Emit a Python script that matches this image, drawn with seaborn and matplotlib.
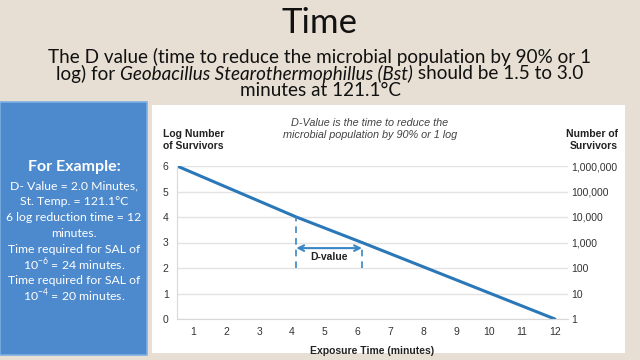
import numpy as np
import pandas as pd
import seaborn as sns
import matplotlib.pyplot as plt
from matplotlib.patches import Rectangle

# data
time_min = [0.5, 4.13, 6.13, 12]
log_surv = [6, 4, 3, 0]
xticks = list(range(1, 13))
yticks = [0, 1, 2, 3, 4, 5, 6]
right_labels = ["1", "10", "100", "1,000", "10,000", "100,000", "1,000,000"]
dval_x = [4.13, 6.13]
dval_top = [4, 2.87]

example_lines = ["D- Value = 2.0 Minutes,",
                 "St. Temp. = 121.1\u00b0C",
                 "6 log reduction time = 12",
                 "minutes.",
                 "Time required for SAL of",
                 "10$^{\\mathregular{-6}}$ = 24 minutes.",
                 "Time required for SAL of",
                 "10$^{\\mathregular{-4}}$ = 20 minutes."]

df = pd.DataFrame({"t": time_min, "log": log_surv})

sns.set_style("white")
plt.rcParams['font.family'] = ['Lato', 'DejaVu Sans']

W, H = 640, 360
fig = plt.figure(figsize=(6.4, 3.6), dpi=100)
fig.patch.set_facecolor('#e7dfd3')

def fx(px):
    return px / W

def fy(py):
    return 1 - py / H

# white chart panel and blue example box
fig.add_artist(Rectangle((fx(152), fy(353)), fx(625 - 152), (353 - 105) / H,
                         transform=fig.transFigure, facecolor='white', edgecolor='none', zorder=0))
fig.add_artist(Rectangle((fx(0), fy(355)), fx(147), (355 - 102) / H,
                         transform=fig.transFigure, facecolor='#4d89cd', edgecolor='#7eaee3',
                         lw=1.2, zorder=0))

# headline
fig.text(fx(320), fy(23), "Time", ha='center', va='center', fontsize=25, color='#111111')
fig.text(fx(320), fy(57), "The D value (time to reduce the microbial population by 90% or 1",
         ha='center', va='center', fontsize=13.6, color='#111111')
fig.text(fx(321), fy(90), "minutes at 121.1\u00b0C", ha='center', va='center', fontsize=13.6, color='#111111')

# second line has an italic part, place pieces side by side
parts = [("log) for ", 'normal'), ("Geobacillus Stearothermophillus (Bst)", 'italic'),
         (" should be 1.5 to 3.0", 'normal')]
rend = fig.canvas.get_renderer()
objs = []
for s, st in parts:
    t = fig.text(0, fy(73.5), s, ha='left', va='center', fontsize=13.6, style=st, color='#111111')
    objs.append(t)
widths = [t.get_window_extent(rend).width for t in objs]
x0 = 320 - sum(widths) / 2
for t, w in zip(objs, widths):
    t.set_x(fx(x0))
    x0 += w

# example box text
fig.text(fx(74), fy(167), "For Example:", ha='center', va='center', fontsize=11.5,
         fontweight='bold', color='white')
for i, line in enumerate(example_lines):
    fig.text(fx(74), fy(186 + i * 15.8), line, ha='center', va='center', fontsize=8.8, color='white')

# chart
ax = fig.add_axes([fx(177), fy(319), fx(568 - 177), (319 - 166) / H])
ax.set_facecolor('none')
sns.lineplot(data=df, x="t", y="log", ax=ax, color='#2a78b8', lw=2.2)
ax.set_xlim(0.5, 12.4)
ax.set_ylim(0, 6)
ax.set_xticks(xticks)
ax.set_yticks(yticks)
ax.grid(axis='y', color='#e3e3e3', lw=1)
ax.tick_params(length=0, labelsize=7.5, labelcolor='#333333', pad=6)
for lab in ax.get_xticklabels() + ax.get_yticklabels():
    lab.set_family(['Liberation Sans'])
for side in ['top', 'right']:
    ax.spines[side].set_visible(False)
for side in ['left', 'bottom']:
    ax.spines[side].set_color('#d8d8d8')
ax.set_xlabel("Exposure Time (minutes)", fontsize=7.5, fontweight='bold', family=['Liberation Sans'],
              color='#222222', labelpad=6)
ax.set_ylabel("")

ax2 = ax.twinx()
ax2.set_ylim(0, 6)
ax2.set_yticks(yticks)
ax2.set_yticklabels(right_labels)
ax2.tick_params(length=0, labelsize=7.5, labelcolor='#333333', pad=2)
for lab in ax2.get_yticklabels():
    lab.set_family(['Liberation Sans'])
for s in ax2.spines.values():
    s.set_visible(False)

# D-value marker
ax.vlines(dval_x[0], 2, dval_top[0], colors='#3a86c4', linestyles=(0, (4, 3)), lw=1.2)
ax.vlines(dval_x[1], 2, dval_top[1], colors='#3a86c4', linestyles=(0, (4, 3)), lw=1.2)
ax.annotate("", xy=(dval_x[0], 2.78), xytext=(dval_x[1], 2.78),
            arrowprops=dict(arrowstyle='<->', color='#3a86c4', lw=1.5, shrinkA=0, shrinkB=0))
ax.text(np.mean(dval_x), 2.43, "D-value", ha='center', va='center', fontsize=7.5,
        fontweight='bold', family=['Liberation Sans'], color='#222222')

# chart headers
fig.text(fx(163), fy(134), "Log Number", ha='left', va='center', fontsize=7.5,
         fontweight='bold', family=['Liberation Sans'], color='#222222')
fig.text(fx(163), fy(146), "of Survivors", ha='left', va='center', fontsize=7.5,
         fontweight='bold', family=['Liberation Sans'], color='#222222')
fig.text(fx(618), fy(134), "Number of", ha='right', va='center', fontsize=7.5,
         fontweight='bold', family=['Liberation Sans'], color='#222222')
fig.text(fx(618), fy(146), "Survivors", ha='right', va='center', fontsize=7.5,
         fontweight='bold', family=['Liberation Sans'], color='#222222')
fig.text(fx(370), fy(123), "D-Value is the time to reduce the", ha='center', va='center',
         fontsize=7.8, style='italic', family=['Liberation Sans'], color='#444444')
fig.text(fx(370), fy(135), "microbial population by 90% or 1 log", ha='center', va='center',
         fontsize=7.8, style='italic', family=['Liberation Sans'], color='#444444')

fig.savefig("out.png", dpi=100, facecolor=fig.get_facecolor())
